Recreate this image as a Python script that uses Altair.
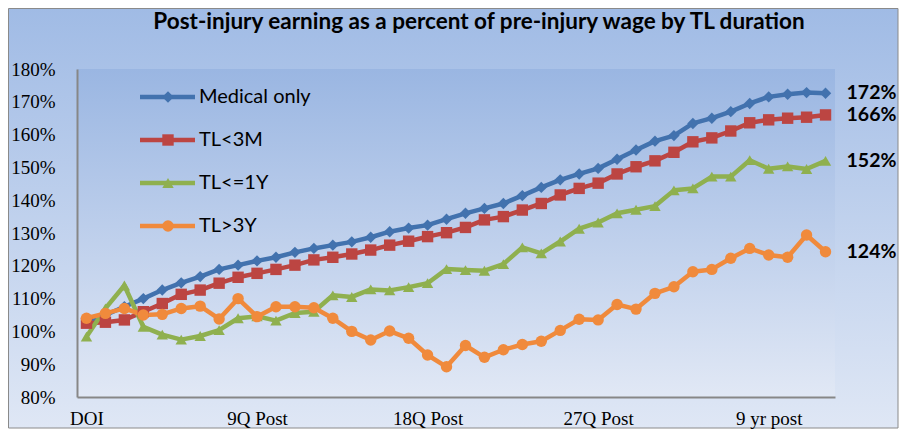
import json
import altair as alt
import pandas as pd

# ---------------- data ----------------
series_names = ["Medical only", "TL<3M", "TL<=1Y", "TL>3Y"]
x_tick_labels = ["DOI", "9Q Post", "18Q Post", "27Q Post", "9 yr post"]
x_tick_positions = [0, 9, 18, 27, 36]
y_tick_values = [80, 90, 100, 110, 120, 130, 140, 150, 160, 170, 180]
end_labels = ["172%", "166%", "152%", "124%"]

medical_only = [103, 105, 107.5, 110, 112.6, 114.8, 116.7, 118.9, 120.2, 121.5,
                122.6, 124.1, 125.3, 126.3, 127.3, 128.7, 130.4, 131.5, 132.4, 134.2,
                136, 137.5, 139, 141.4, 143.9, 146.2, 148, 149.7, 152.5, 155.3,
                158, 159.7, 163.4, 165, 167, 169.5, 171.5, 172.3, 172.8, 172.6]
tl_lt_3m = [102.5, 102.8, 103.5, 106, 108.5, 111.3, 112.6, 114.7, 116.5, 117.7,
            118.9, 120.2, 121.8, 122.6, 123.6, 124.8, 126.3, 127.5, 128.9, 130.1,
            131.7, 134, 135, 137, 139, 141.6, 143.6, 145.2, 148, 150.2,
            152, 154.6, 157.8, 159, 161.1, 163.6, 164.5, 165, 165.3, 166]
tl_le_1y = [98.4, 107, 114, 101.4, 99, 97.5, 98.6, 100.4, 104, 104.6,
            103.3, 105.6, 106, 111, 110.5, 112.8, 112.5, 113.5, 114.7, 119,
            118.7, 118.5, 120.5, 125.6, 123.8, 127.4, 131.3, 133.2, 136, 137.1,
            138.2, 143, 143.6, 147.2, 147.2, 152.2, 149.6, 150.3, 149.5, 152]
tl_gt_3y = [104, 105.5, 107, 105, 105.2, 107, 107.7, 103.8, 110, 104.5,
            107.5, 107.5, 107.2, 104, 100, 97.4, 100.1, 97.9, 92.8, 89.2,
            95.7, 92.1, 94.4, 96, 97, 100.3, 103.7, 103.5, 108.2, 106.8,
            111.6, 113.6, 118.2, 118.9, 122.3, 125.3, 123.3, 122.6, 129.4, 124.3]

title_text = "Post-injury earning as a percent of pre-injury wage by TL duration"

# ---------------- styling ----------------
colors = ["#4272ae", "#bc4542", "#8fb04f", "#f08a3c"]
shapes = ["diamond", "square", "triangle-up", "circle"]
W, H = 758, 328
PAD = {"left": 69, "top": 61, "right": 64, "bottom": 32}

all_series = [medical_only, tl_lt_3m, tl_le_1y, tl_gt_3y]
rows = []
for name, vals in zip(series_names, all_series):
    for i, v in enumerate(vals):
        rows.append({"series": name, "idx": i, "value": v})
df = pd.DataFrame(rows)

end_df = pd.DataFrame({
    "series": series_names,
    "idx": [len(v) - 1 for v in all_series],
    "value": [v[-1] for v in all_series],
    "label": end_labels,
})
legend_df = pd.DataFrame({"series": series_names})
one = pd.DataFrame({"k": [0]})

color_scale = alt.Scale(domain=series_names, range=colors)
shape_scale = alt.Scale(domain=series_names, range=shapes)
x_scale = alt.Scale(domain=[-0.5, 39.5], nice=False, zero=False)
y_scale = alt.Scale(domain=[80, 180], nice=False, zero=False)

label_expr = json.dumps(x_tick_labels) + "[indexof(" + json.dumps(x_tick_positions) + ", datum.value)]"

x_axis = alt.Axis(values=x_tick_positions, labelExpr=label_expr, ticks=False, grid=False,
                  domainColor="#878787", domainWidth=2, labelFont="Liberation Serif",
                  labelFontSize=19, labelColor="black", labelPadding=12, labelFlush=False,
                  labelOverlap=False, title=None, zindex=1)
y_axis = alt.Axis(values=y_tick_values, labelExpr="datum.value + '%'", ticks=False,
                  grid=False, domainColor="#878787", domainWidth=2, labelFont="Liberation Serif",
                  labelFontSize=19, labelColor="black", labelPadding=22, labelOverlap=False,
                  labelFlush=False, tickCount=len(y_tick_values), title=None, zindex=1)

outer_grad = alt.LinearGradient(gradient="linear", x1=0, x2=0, y1=0, y2=1, stops=[
    alt.GradientStop(color="#a0bbe5", offset=0),
    alt.GradientStop(color="#dfe7f5", offset=1)])
plot_grad = alt.LinearGradient(gradient="linear", x1=0, x2=0, y1=0, y2=1, stops=[
    alt.GradientStop(color="#9ab6e2", offset=0),
    alt.GradientStop(color="#e1e8f5", offset=1)])

bg = alt.Chart(one).mark_rect(color=outer_grad, stroke="#8a8a8a", strokeWidth=1).encode(
    x=alt.value(-PAD["left"] + 0.5), x2=alt.value(W + PAD["right"] - 1),
    y=alt.value(-PAD["top"] + 0.5), y2=alt.value(H + PAD["bottom"] - 1))
plotbg = alt.Chart(one).mark_rect(color=plot_grad).encode(
    x=alt.value(0), x2=alt.value(W), y=alt.value(0), y2=alt.value(H))

title = alt.Chart(one).mark_text(text=title_text, font="Lato", fontSize=22.5, fontWeight="bold",
                                 color="black", align="center", baseline="middle").encode(
    x=alt.value(402), y=alt.value(-47))

base = alt.Chart(df)
X = alt.X("idx:Q", scale=x_scale, axis=x_axis)
Y = alt.Y("value:Q", scale=y_scale, axis=y_axis)
lines = base.mark_line(strokeWidth=4.5, strokeJoin="round").encode(
    x=X, y=Y,
    color=alt.Color("series:N", scale=color_scale, legend=None),
    detail="series:N",
    order="idx:Q",
)
points = base.mark_point(filled=True, opacity=1, size=130).encode(
    x=X, y=Y,
    color=alt.Color("series:N", scale=color_scale, legend=None),
    shape=alt.Shape("series:N", scale=shape_scale, legend=None),
)
ends = alt.Chart(end_df).mark_text(font="Lato", fontSize=19.5, fontWeight="bold", color="black",
                                   align="left", baseline="middle", dx=21).encode(
    x=X, y=Y,
    text="label:N",
)
data_layer = alt.layer(lines, points, ends)

ly = alt.Y("series:N", scale=alt.Scale(type="point", domain=series_names, range=[28, 157], padding=0),
           axis=None)
leg_rule = alt.Chart(legend_df).mark_rule(strokeWidth=4.5).encode(
    x=alt.value(63), x2=alt.value(118), y=ly,
    color=alt.Color("series:N", scale=color_scale, legend=None))
leg_point = alt.Chart(legend_df).mark_point(filled=True, opacity=1, size=130).encode(
    x=alt.value(91), y=ly,
    color=alt.Color("series:N", scale=color_scale, legend=None),
    shape=alt.Shape("series:N", scale=shape_scale, legend=None))
leg_text = alt.Chart(legend_df).mark_text(font="Lato", fontSize=20, color="black", align="left",
                                          baseline="middle").encode(
    x=alt.value(122), y=ly, text="series:N")
legend_layer = alt.layer(leg_rule, leg_point, leg_text)

chart = alt.layer(bg, plotbg, title, data_layer, legend_layer).resolve_scale(
    y="independent"
).properties(
    width=W, height=H, padding=PAD, autosize=alt.AutoSizeParams(type="none"),
    background="white"
).configure_view(stroke=None)

chart.save("out.html", embed_options={"renderer": "svg", "actions": False})
